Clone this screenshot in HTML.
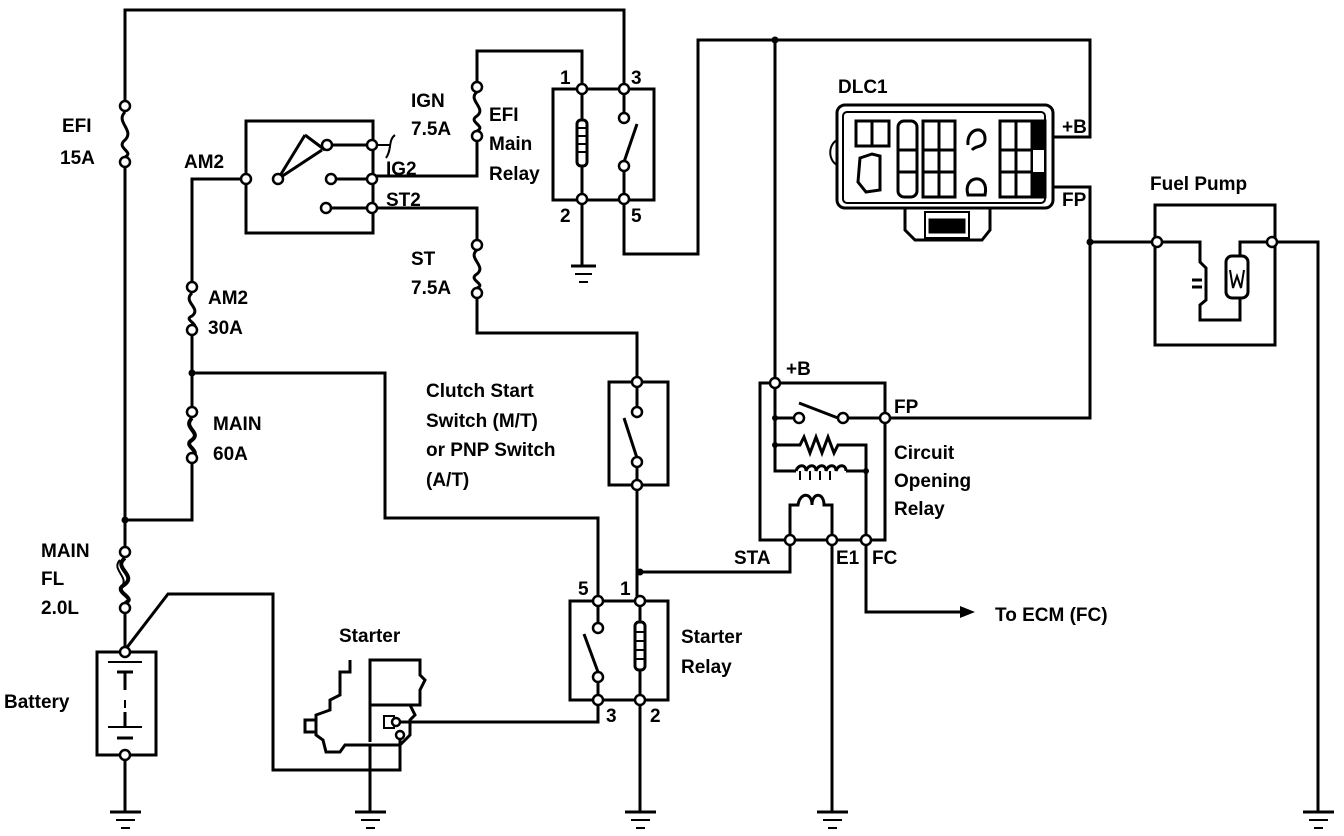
<!DOCTYPE html>
<html><head><meta charset="utf-8"><style>
html,body{margin:0;padding:0;background:#fff;}
svg{display:block;}
text{font-family:"Liberation Sans",sans-serif;font-weight:bold;font-size:19px;fill:#000;}
</style></head><body>
<svg width="1344" height="836" viewBox="0 0 1344 836" xmlns="http://www.w3.org/2000/svg">
<g fill="none" stroke="#000" stroke-width="3" stroke-linejoin="miter">
<polyline points="125,106 125,10 624,10 624,89"/>
<path d="M125,112 C115,122 135,130 125,140 C115,148 135,152 125,157"/>
<polyline points="125,162 125,552"/>
<polyline points="125,520 192,520 192,464"/>
<path d="M192,418 C182,428 202,432 192,440 C182,446 202,450 192,458" stroke-width="4"/>
<polyline points="192,412 192,336"/>
<path d="M192,293 C182,302 202,308 192,316 C182,320 202,324 192,330"/>
<polyline points="192,287 192,179 246,179"/>
<polyline points="192,373 385,373 385,518 598,518 598,601"/>
<path d="M125,558 C112,568 138,575 124,585 C112,592 138,598 125,603" stroke-width="4"/>
<path d="M120,560 C110,570 132,578 120,588" stroke-width="2"/>
<polyline points="125,608 125,650"/>
<polyline points="125,650 168,594 273,594 273,770 400,770 400,735"/>
<rect x="97" y="652" width="59" height="103"/>
<line x1="108" y1="662" x2="142" y2="662" stroke-width="2"/>
<line x1="117" y1="672" x2="133" y2="672"/>
<line x1="125" y1="672" x2="125" y2="690"/>
<line x1="125" y1="700" x2="125" y2="708" stroke-width="2"/>
<line x1="108" y1="727" x2="142" y2="727" stroke-width="2"/>
<line x1="117" y1="738" x2="133" y2="738"/>
<line x1="125" y1="712" x2="125" y2="727"/>
<polyline points="125,755 125,812"/>
<rect x="246" y="121" width="127" height="112"/>
<line x1="278" y1="179" x2="305" y2="135"/>
<line x1="305" y1="135" x2="325" y2="150"/>
<line x1="281" y1="177" x2="322" y2="150"/>
<line x1="327" y1="145" x2="372" y2="145"/>
<line x1="331" y1="179" x2="372" y2="179"/>
<line x1="326" y1="208" x2="372" y2="208"/>
<path d="M372,145 L390,145 M395,135 C388,140 392,150 386,158" stroke-width="2"/>
<polyline points="372,176 477,176 477,136"/>
<path d="M477,92 C467,100 487,108 477,116 C467,122 487,126 477,131"/>
<polyline points="477,87 477,51 582,51 582,89"/>
<polyline points="372,208 477,208 477,245"/>
<path d="M477,250 C467,258 487,266 477,274 C467,280 487,284 477,288"/>
<polyline points="477,293 477,333 637,333 637,382"/>
<rect x="553" y="89" width="101" height="111"/>
<polyline points="582,89 582,120"/>
<rect x="577" y="120" width="10" height="46" rx="4"/>
<path d="M577,128 h10 M577,136 h10 M577,144 h10 M577,152 h10" stroke-width="2"/>
<polyline points="582,166 582,199 582,266"/>
<line x1="571" y1="266" x2="596" y2="266"/>
<line x1="575" y1="274" x2="592" y2="274" stroke-width="2"/>
<line x1="579" y1="282" x2="588" y2="282" stroke-width="2"/>
<polyline points="624,89 624,118"/>
<line x1="624" y1="162" x2="637" y2="124"/>
<polyline points="624,166 624,199 624,254 698,254 698,40 1090,40 1090,137 1053,137"/>
<polyline points="775,40 775,383"/>
<rect x="837" y="105" width="216" height="103" rx="8"/>
<rect x="843" y="112" width="202" height="91" rx="4" stroke-width="2"/>
<path d="M837,140 C828,145 828,160 837,165" stroke-width="2"/>
<rect x="856" y="121" width="33" height="25"/>
<line x1="872" y1="121" x2="872" y2="146"/>
<path d="M860,158 L872,154 L880,156 L880,190 L866,192 L858,182 Z"/>
<rect x="898" y="121" width="19" height="76" rx="6"/>
<line x1="898" y1="150" x2="917" y2="150"/>
<line x1="898" y1="172" x2="917" y2="172"/>
<rect x="923" y="121" width="32" height="76"/>
<line x1="939" y1="121" x2="939" y2="197"/>
<line x1="923" y1="150" x2="955" y2="150"/>
<line x1="923" y1="172" x2="955" y2="172"/>
<path d="M968,145 C966,128 986,124 985,140 C984,148 976,145 972,150"/>
<path d="M968,195 C962,175 990,172 985,195 Z"/>
<rect x="1000" y="121" width="45" height="76"/>
<line x1="1016" y1="121" x2="1016" y2="197"/>
<line x1="1000" y1="150" x2="1045" y2="150"/>
<line x1="1000" y1="172" x2="1045" y2="172"/>
<rect x="1032" y="121" width="13" height="76" fill="#000"/>
<rect x="1033" y="150" width="11" height="22" fill="#fff" stroke="none"/>
<path d="M905,208 L905,230 L915,240 L982,240 L990,230 L990,208"/>
<rect x="925" y="212" width="44" height="26" stroke-width="2"/>
<rect x="930" y="220" width="34" height="12" fill="#000"/>
<polyline points="1053,187 1090,187 1090,418 885,418"/>
<polyline points="1090,242 1157,242"/>
<rect x="1155" y="205" width="120" height="140"/>
<polyline points="1157,242 1200,242 1200,262 1206,268 1206,300 1200,305 1200,320 1240,320 1240,298"/>
<polyline points="1272,242 1240,242 1240,256"/>
<rect x="1226" y="256" width="22" height="42" rx="6"/>
<path d="M1230,270 L1233,288 L1237,276 L1241,288 L1244,270" stroke-width="2"/>
<path d="M1192,280 L1202,280 M1192,287 L1202,287"/>
<polyline points="1272,242 1318,242 1318,812"/>
<rect x="760" y="383" width="125" height="157"/>
<polyline points="775,383 775,418 797,418"/>
<line x1="799" y1="403" x2="838" y2="418"/>
<line x1="846" y1="418" x2="882" y2="418"/>
<polyline points="775,418 775,445 800,445 804,437 810,453 816,437 822,453 828,437 834,453 838,445 866,445 866,471"/>
<polyline points="775,445 775,471 796,471"/>
<path d="M796,471 C798,464 806,464 806,471 C808,464 816,464 816,471 C818,464 826,464 826,471 C828,464 836,464 836,471 C838,464 846,464 846,471"/>
<line x1="800" y1="471" x2="800" y2="480" stroke-width="2"/><line x1="810" y1="471" x2="810" y2="480" stroke-width="2"/><line x1="820" y1="471" x2="820" y2="480" stroke-width="2"/><line x1="830" y1="471" x2="830" y2="480" stroke-width="2"/>
<polyline points="846,471 866,471 866,540"/>
<path d="M790,540 L790,505 L798,505 C800,492 812,492 812,505 C812,492 824,492 824,505 L832,505 L832,540"/>
<polyline points="790,540 790,572 640,572"/>
<polyline points="832,540 832,812"/>
<polyline points="866,540 866,612 960,612"/>
<rect x="609" y="382" width="59" height="103"/>
<line x1="637" y1="382" x2="637" y2="412"/>
<line x1="624" y1="418" x2="637" y2="458"/>
<polyline points="637,462 637,601"/>
<rect x="570" y="601" width="98" height="99"/>
<line x1="598" y1="601" x2="598" y2="628"/>
<line x1="584" y1="634" x2="598" y2="672"/>
<polyline points="598,677 598,722 400,722"/>
<polyline points="640,601 640,622"/>
<rect x="635" y="622" width="10" height="48" rx="4"/>
<path d="M635,632 h10 M635,641 h10 M635,650 h10 M635,659 h10" stroke-width="2"/>
<polyline points="640,670 640,812"/>
<path d="M370,742 L370,660 L420,660 L420,675 L425,680 L420,690 L420,705 L371,705"/>
<path d="M350,660 L350,672 L340,672 L340,695 L330,700 L330,710 L316,715 L316,735 L323,740 L326,752 L340,752 L345,745 L400,745 L410,735 L410,720 L415,715 L410,705"/>
<path d="M316,720 L305,720 L305,732 L316,732"/>
<rect x="384" y="716" width="10" height="12" stroke-width="2"/>
<line x1="370" y1="745" x2="370" y2="812"/>
</g>
<g stroke="#000" stroke-width="3">
<line x1="110" y1="812" x2="141" y2="812"/><line x1="116" y1="820" x2="135" y2="820" stroke-width="2"/><line x1="121" y1="828" x2="130" y2="828" stroke-width="2"/>
<line x1="355" y1="812" x2="386" y2="812"/><line x1="361" y1="820" x2="380" y2="820" stroke-width="2"/><line x1="366" y1="828" x2="375" y2="828" stroke-width="2"/>
<line x1="625" y1="812" x2="656" y2="812"/><line x1="631" y1="820" x2="650" y2="820" stroke-width="2"/><line x1="636" y1="828" x2="645" y2="828" stroke-width="2"/>
<line x1="817" y1="812" x2="848" y2="812"/><line x1="823" y1="820" x2="842" y2="820" stroke-width="2"/><line x1="828" y1="828" x2="837" y2="828" stroke-width="2"/>
<line x1="1303" y1="812" x2="1334" y2="812"/><line x1="1309" y1="820" x2="1328" y2="820" stroke-width="2"/><line x1="1314" y1="828" x2="1323" y2="828" stroke-width="2"/>
</g>
<polygon points="960,606 975,612 960,618" fill="#000"/>
<g fill="#000">
<circle cx="125" cy="520" r="3.5"/><circle cx="192" cy="373" r="3.5"/><circle cx="775" cy="40" r="3.5"/>
<circle cx="1090" cy="242" r="3.5"/><circle cx="640" cy="572" r="3.5"/><circle cx="775" cy="418" r="3"/><circle cx="775" cy="445" r="3"/><circle cx="866" cy="471" r="3"/>
</g>
<g fill="#fff" stroke="#000" stroke-width="2.5">
<circle cx="125" cy="106" r="5"/><circle cx="125" cy="162" r="5"/>
<circle cx="192" cy="287" r="5"/><circle cx="192" cy="330" r="5"/>
<circle cx="192" cy="412" r="5"/><circle cx="192" cy="458" r="5"/>
<circle cx="125" cy="552" r="5"/><circle cx="125" cy="608" r="5"/>
<circle cx="125" cy="652" r="5"/><circle cx="125" cy="755" r="5"/>
<circle cx="246" cy="179" r="5"/><circle cx="278" cy="179" r="5"/>
<circle cx="327" cy="145" r="5"/><circle cx="372" cy="145" r="5"/>
<circle cx="331" cy="179" r="5"/><circle cx="372" cy="179" r="5"/>
<circle cx="326" cy="208" r="5"/><circle cx="372" cy="208" r="5"/>
<circle cx="477" cy="87" r="5"/><circle cx="477" cy="136" r="5"/>
<circle cx="477" cy="245" r="5"/><circle cx="477" cy="293" r="5"/>
<circle cx="582" cy="89" r="5"/><circle cx="624" cy="89" r="5"/>
<circle cx="582" cy="199" r="5"/><circle cx="624" cy="199" r="5"/>
<circle cx="624" cy="118" r="5"/><circle cx="624" cy="166" r="5"/>
<circle cx="637" cy="382" r="5"/><circle cx="637" cy="412" r="5"/><circle cx="637" cy="462" r="5"/><circle cx="637" cy="485" r="5"/>
<circle cx="598" cy="601" r="5"/><circle cx="640" cy="601" r="5"/><circle cx="598" cy="700" r="5"/><circle cx="640" cy="700" r="5"/>
<circle cx="598" cy="628" r="5"/><circle cx="598" cy="677" r="5"/>
<circle cx="775" cy="383" r="5"/><circle cx="885" cy="418" r="5"/><circle cx="799" cy="418" r="5"/><circle cx="843" cy="418" r="5"/>
<circle cx="790" cy="540" r="5"/><circle cx="832" cy="540" r="5"/><circle cx="866" cy="540" r="5"/>
<circle cx="1157" cy="242" r="5"/><circle cx="1272" cy="242" r="5"/>
<circle cx="400" cy="735" r="4"/><circle cx="396" cy="722" r="4"/>
</g>
<text x="62" y="132">EFI</text><text x="60" y="164">15A</text>
<text x="184" y="168">AM2</text>
<text x="208" y="304">AM2</text><text x="208" y="334">30A</text>
<text x="213" y="430">MAIN</text><text x="213" y="460">60A</text>
<text x="41" y="557">MAIN</text><text x="41" y="585">FL</text><text x="41" y="614">2.0L</text>
<text x="4" y="708">Battery</text>
<text x="339" y="642">Starter</text>
<text x="386" y="175">IG2</text><text x="386" y="206">ST2</text>
<text x="411" y="107">IGN</text><text x="411" y="135">7.5A</text>
<text x="489" y="121">EFI</text><text x="489" y="150">Main</text><text x="489" y="180">Relay</text>
<text x="560" y="84">1</text><text x="631" y="84">3</text><text x="560" y="222">2</text><text x="631" y="222">5</text>
<text x="411" y="265">ST</text><text x="411" y="294">7.5A</text>
<text x="426" y="397">Clutch Start</text><text x="426" y="427">Switch (M/T)</text><text x="426" y="456">or PNP Switch</text><text x="426" y="486">(A/T)</text>
<text x="578" y="595">5</text><text x="620" y="595">1</text><text x="606" y="722">3</text><text x="650" y="722">2</text>
<text x="681" y="643">Starter</text><text x="681" y="673">Relay</text>
<text x="786" y="375">+B</text><text x="894" y="413">FP</text>
<text x="894" y="459">Circuit</text><text x="894" y="487">Opening</text><text x="894" y="515">Relay</text>
<text x="734" y="564">STA</text><text x="836" y="564">E1</text><text x="872" y="564">FC</text>
<text x="995" y="621">To ECM (FC)</text>
<text x="838" y="93">DLC1</text>
<text x="1062" y="133">+B</text><text x="1062" y="206">FP</text>
<text x="1150" y="190">Fuel Pump</text>
</svg>
</body></html>
